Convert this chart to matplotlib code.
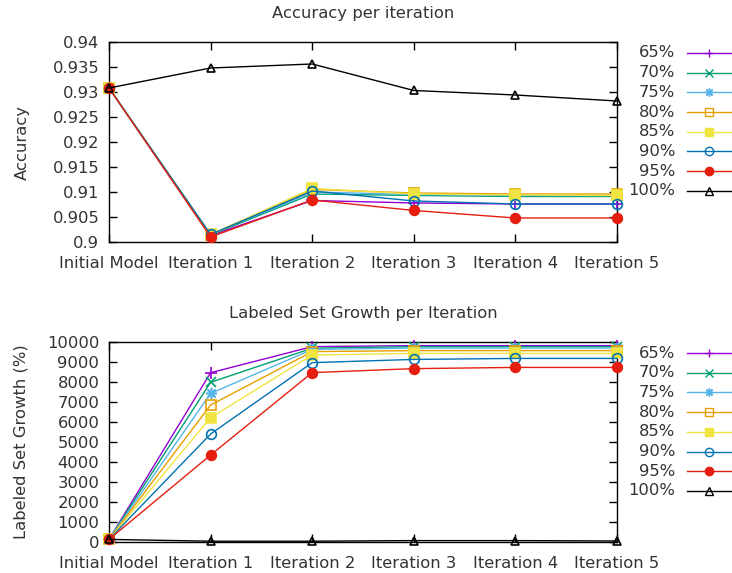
import matplotlib.pyplot as plt
from matplotlib.lines import Line2D
import numpy as np

# Categories and series
iterations = ['Initial Model', 'Iteration 1', 'Iteration 2', 'Iteration 3', 'Iteration 4', 'Iteration 5']
thresholds = ['65%', '70%', '75%', '80%', '85%', '90%', '95%', '100%']

acc_65 = [0.9308, 0.9013, 0.9083, 0.9078, 0.9076, 0.9076]
acc_70 = [0.9308, 0.9014, 0.9096, 0.9093, 0.9091, 0.9091]
acc_75 = [0.9308, 0.9015, 0.9100, 0.9095, 0.9093, 0.9093]
acc_80 = [0.9308, 0.9014, 0.9105, 0.9098, 0.9096, 0.9096]
acc_85 = [0.9308, 0.9015, 0.9107, 0.9096, 0.9094, 0.9093]
acc_90 = [0.9308, 0.9015, 0.9102, 0.9082, 0.9076, 0.9076]
acc_95 = [0.9308, 0.9010, 0.9084, 0.9063, 0.9048, 0.9048]
acc_100 = [0.9308, 0.9348, 0.9356, 0.9303, 0.9294, 0.9282]

grow_65 = [130, 8465, 9770, 9820, 9820, 9820]
grow_70 = [130, 7985, 9690, 9770, 9770, 9770]
grow_75 = [130, 7430, 9630, 9700, 9700, 9700]
grow_80 = [130, 6850, 9520, 9570, 9570, 9570]
grow_85 = [130, 6220, 9350, 9430, 9430, 9430]
grow_90 = [130, 5400, 8970, 9130, 9180, 9180]
grow_95 = [130, 4350, 8470, 8670, 8730, 8730]
grow_100 = [130, 40, 40, 70, 70, 50]

acc_series = [acc_65, acc_70, acc_75, acc_80, acc_85, acc_90, acc_95, acc_100]
grow_series = [grow_65, grow_70, grow_75, grow_80, grow_85, grow_90, grow_95, grow_100]

# gnuplot-like styles
colors = ['#9400D3', '#009E73', '#56B4E9', '#E69F00', '#F0E442', '#0072B2', '#E51E10', '#000000']
markers = ['+', 'x', (8, 2, 0), 's', 's', 'o', 'o', '^']
filled = [True, True, True, False, True, False, True, False]
msizes = [9, 7, 8, 7, 7, 7, 7, 6]

txt = '#333333'
plt.rcParams['font.family'] = 'DejaVu Sans'
plt.rcParams['font.size'] = 11.8
plt.rcParams['text.color'] = txt
plt.rcParams['axes.labelcolor'] = txt
plt.rcParams['xtick.labelcolor'] = txt
plt.rcParams['ytick.labelcolor'] = txt

fig = plt.figure(figsize=(7.32, 5.73), dpi=100)
ax1 = fig.add_axes([0.1489, 0.5777, 0.694, 0.349])
ax2 = fig.add_axes([0.1489, 0.0541, 0.694, 0.349])

x = np.arange(len(iterations))


def draw(ax, series):
    for vals, c, m, f, ms in zip(series, colors, markers, filled, msizes):
        ax.plot(x, vals, color=c, lw=1, marker=m, ms=ms, mew=1.2,
                mfc=c if f else 'none', mec=c, clip_on=False, zorder=3)
    # legend drawn outside on the right
    for i, (lab, c, m, f) in enumerate(zip(thresholds, colors, markers, filled)):
        yy = 0.945 - i * 0.0985
        ax.text(1.114, yy, lab, transform=ax.transAxes, ha='right', va='center')
        ax.add_line(Line2D([1.138, 1.226], [yy, yy], transform=ax.transAxes, color=c,
                           lw=1, clip_on=False))
        ax.add_line(Line2D([1.182], [yy], transform=ax.transAxes, color=c, marker=m,
                           ms=6, mew=1, mfc=c if f else 'none', mec=c, clip_on=False))
    ax.set_xlim(0, 5)
    ax.set_xticks(x)
    ax.set_xticklabels(iterations)
    ax.tick_params(direction='in', length=6, width=1, top=True, right=True)
    ax.tick_params(axis='x', pad=10)
    ax.tick_params(axis='y', pad=7)
    for s in ax.spines.values():
        s.set_linewidth(1)


draw(ax1, acc_series)
ax1.set_ylim(0.9, 0.94)
ax1.set_yticks(np.linspace(0.9, 0.94, 9))
ax1.set_yticklabels([f'{v:g}' for v in np.round(np.linspace(0.9, 0.94, 9), 3)])
ax1.set_ylabel('Accuracy')
ax1.yaxis.set_label_coords(-0.156, 0.5)
ax1.set_title('Accuracy per iteration', pad=17, fontsize=11.8)

draw(ax2, grow_series)
ax2.set_ylim(0, 10000)
ax2.set_yticks(np.arange(0, 10001, 1000))
ax2.set_ylabel('Labeled Set Growth (%)')
ax2.yaxis.set_label_coords(-0.159, 0.5)
ax2.set_title('Labeled Set Growth per Iteration', pad=17, fontsize=11.8)

fig.savefig('out.png', dpi=100)
